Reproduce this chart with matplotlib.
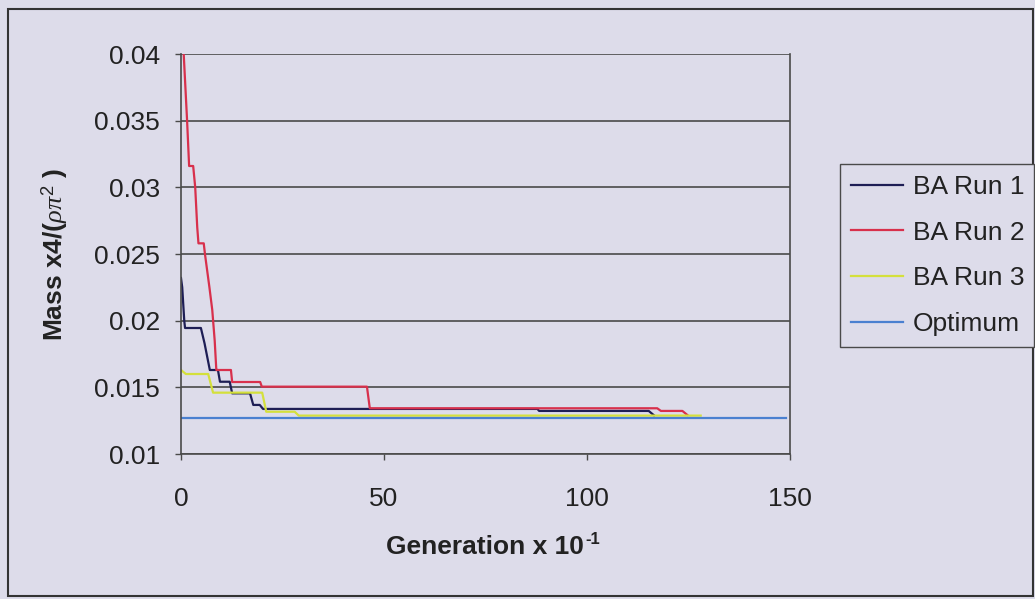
import matplotlib
matplotlib.use("Agg")
import matplotlib.pyplot as plt
from matplotlib.patches import Rectangle

# ---------------- data ----------------
run1_x = [0, 0.3, 0.8, 1.0, 4.9, 5.8, 7.1, 9.1, 9.6, 12.0, 12.6, 17.0, 17.8, 19.4, 20.2, 87.8, 88.2, 115.2, 116.5]
run1_y = [0.0232, 0.0225, 0.0200, 0.01945, 0.01945, 0.0183, 0.0163, 0.0163, 0.01542, 0.01542, 0.01455,
          0.01455, 0.01368, 0.01368, 0.01338, 0.01338, 0.01323, 0.01323, 0.01290]

run2_x = [0, 1.5, 2.0, 3.0, 3.5, 4.0, 4.3, 5.6, 5.9, 7.0, 7.7, 8.3, 8.7, 12.3, 12.6, 19.5, 19.9, 45.8,
          46.5, 117.3, 118.2, 123.5, 124.7]
run2_y = [0.0440, 0.0350, 0.0316, 0.0316, 0.0300, 0.0270, 0.0258, 0.0258, 0.0250, 0.0225, 0.0208, 0.0185,
          0.0163, 0.0163, 0.0154, 0.0154, 0.01505, 0.01505, 0.01343, 0.01343, 0.01323, 0.01323, 0.01293]

run3_x = [0, 1.2, 6.7, 7.9, 20.0, 21.0, 28.0, 29.0, 128.0]
run3_y = [0.0163, 0.0160, 0.0160, 0.0146, 0.0146, 0.01317, 0.01317, 0.01288, 0.01288]

opt_x = [0, 149]
opt_y = [0.01267, 0.01267]

labels = ["BA Run 1", "BA Run 2", "BA Run 3", "Optimum"]
colors = ["#1e1e55", "#d8304c", "#d4e03c", "#4a80d0"]

x_ticks = [0, 50, 100, 150]
y_ticks = [0.01, 0.015, 0.02, 0.025, 0.03, 0.035, 0.04]
y_tick_labels = ["0.01", "0.015", "0.02", "0.025", "0.03", "0.035", "0.04"]

# ---------------- style ----------------
plt.rcParams['font.family'] = ['Liberation Sans', 'DejaVu Sans']
plt.rcParams['mathtext.fontset'] = 'custom'
plt.rcParams['mathtext.rm'] = 'Liberation Sans'
plt.rcParams['mathtext.bf'] = 'Liberation Sans:bold'
plt.rcParams['mathtext.it'] = 'Liberation Serif:italic'

bg = "#dddcea"
grid_c = "#4a4a4a"
text_c = "#222222"

W, H, DPI = 1035, 599, 100
fig = plt.figure(figsize=(W / DPI, H / DPI), dpi=DPI, facecolor=bg)

# plot area in pixels: left 181, right 790, top 54, bottom 454
L, R, T, B = 181, 790, 54, 454
ax = fig.add_axes([L / W, (H - B) / H, (R - L) / W, (B - T) / H])
ax.set_facecolor(bg)

series = [(run1_x, run1_y), (run2_x, run2_y), (run3_x, run3_y), (opt_x, opt_y)]
lines = []
for (xs, ys), c, lab in zip(series, colors, labels):
    ln, = ax.plot(xs, ys, color=c, lw=1.6, label=lab, solid_joinstyle='round')
    lines.append(ln)

ax.set_xlim(0, 150)
ax.set_ylim(0.01, 0.04)
ax.set_xticks(x_ticks)
ax.set_xticklabels([str(v) for v in x_ticks])
ax.set_yticks(y_ticks)
ax.set_yticklabels(y_tick_labels)

for y in y_ticks:
    ax.axhline(y, color=grid_c, lw=1.2, zorder=0.5)

for side in ['left', 'bottom', 'right']:
    ax.spines[side].set_color(grid_c)
    ax.spines[side].set_linewidth(1.2)
ax.spines['top'].set_visible(False)

ax.tick_params(axis='y', direction='out', length=4.5, width=1, color=grid_c,
               labelsize=19, labelcolor=text_c, pad=10.5)
ax.tick_params(axis='x', direction='out', length=4.5, width=1, color=grid_c,
               labelsize=19, labelcolor=text_c, pad=19)

# axis titles
xl = fig.text(485 / W, 1 - 547 / H, "Generation x 10", ha='center', va='center',
              fontsize=19, fontweight='bold', color=text_c)
fig.canvas.draw()
bb = xl.get_window_extent(fig.canvas.get_renderer())
fig.text((bb.x1 + 1) / W, (bb.y1 + 3) / H, "-1", ha='left', va='top',
         fontsize=12, fontweight='bold', color=text_c)

fig.text(55 / W, 1 - 254 / H, r"Mass x4/($\rho\pi^2$ )", ha='center', va='center',
         rotation=90, fontsize=19, fontweight='bold', color=text_c)

# legend
lx0, ly0, lx1, ly1 = 840, 165, 1034, 346
leg = fig.legend(handles=lines, labels=labels,
                 loc='center left',
                 bbox_to_anchor=(lx0 / W, 1 - ly1 / H, (lx1 - lx0) / W, (ly1 - ly0) / H),
                 mode='expand', fontsize=19, frameon=True, fancybox=False,
                 edgecolor=grid_c, facecolor=bg, framealpha=1,
                 handlelength=2.0, handletextpad=0.35, labelspacing=0.82,
                 borderpad=0.4, borderaxespad=0)
leg.get_frame().set_linewidth(1.0)
for t in leg.get_texts():
    t.set_color(text_c)

# outer chart border
fig.patches.append(Rectangle((8 / W, 3 / H), (1033 - 8) / W, (596 - 9) / H,
                             transform=fig.transFigure, fill=False,
                             edgecolor="#333333", lw=1.5))

fig.savefig("out.png", dpi=DPI, facecolor=bg)
